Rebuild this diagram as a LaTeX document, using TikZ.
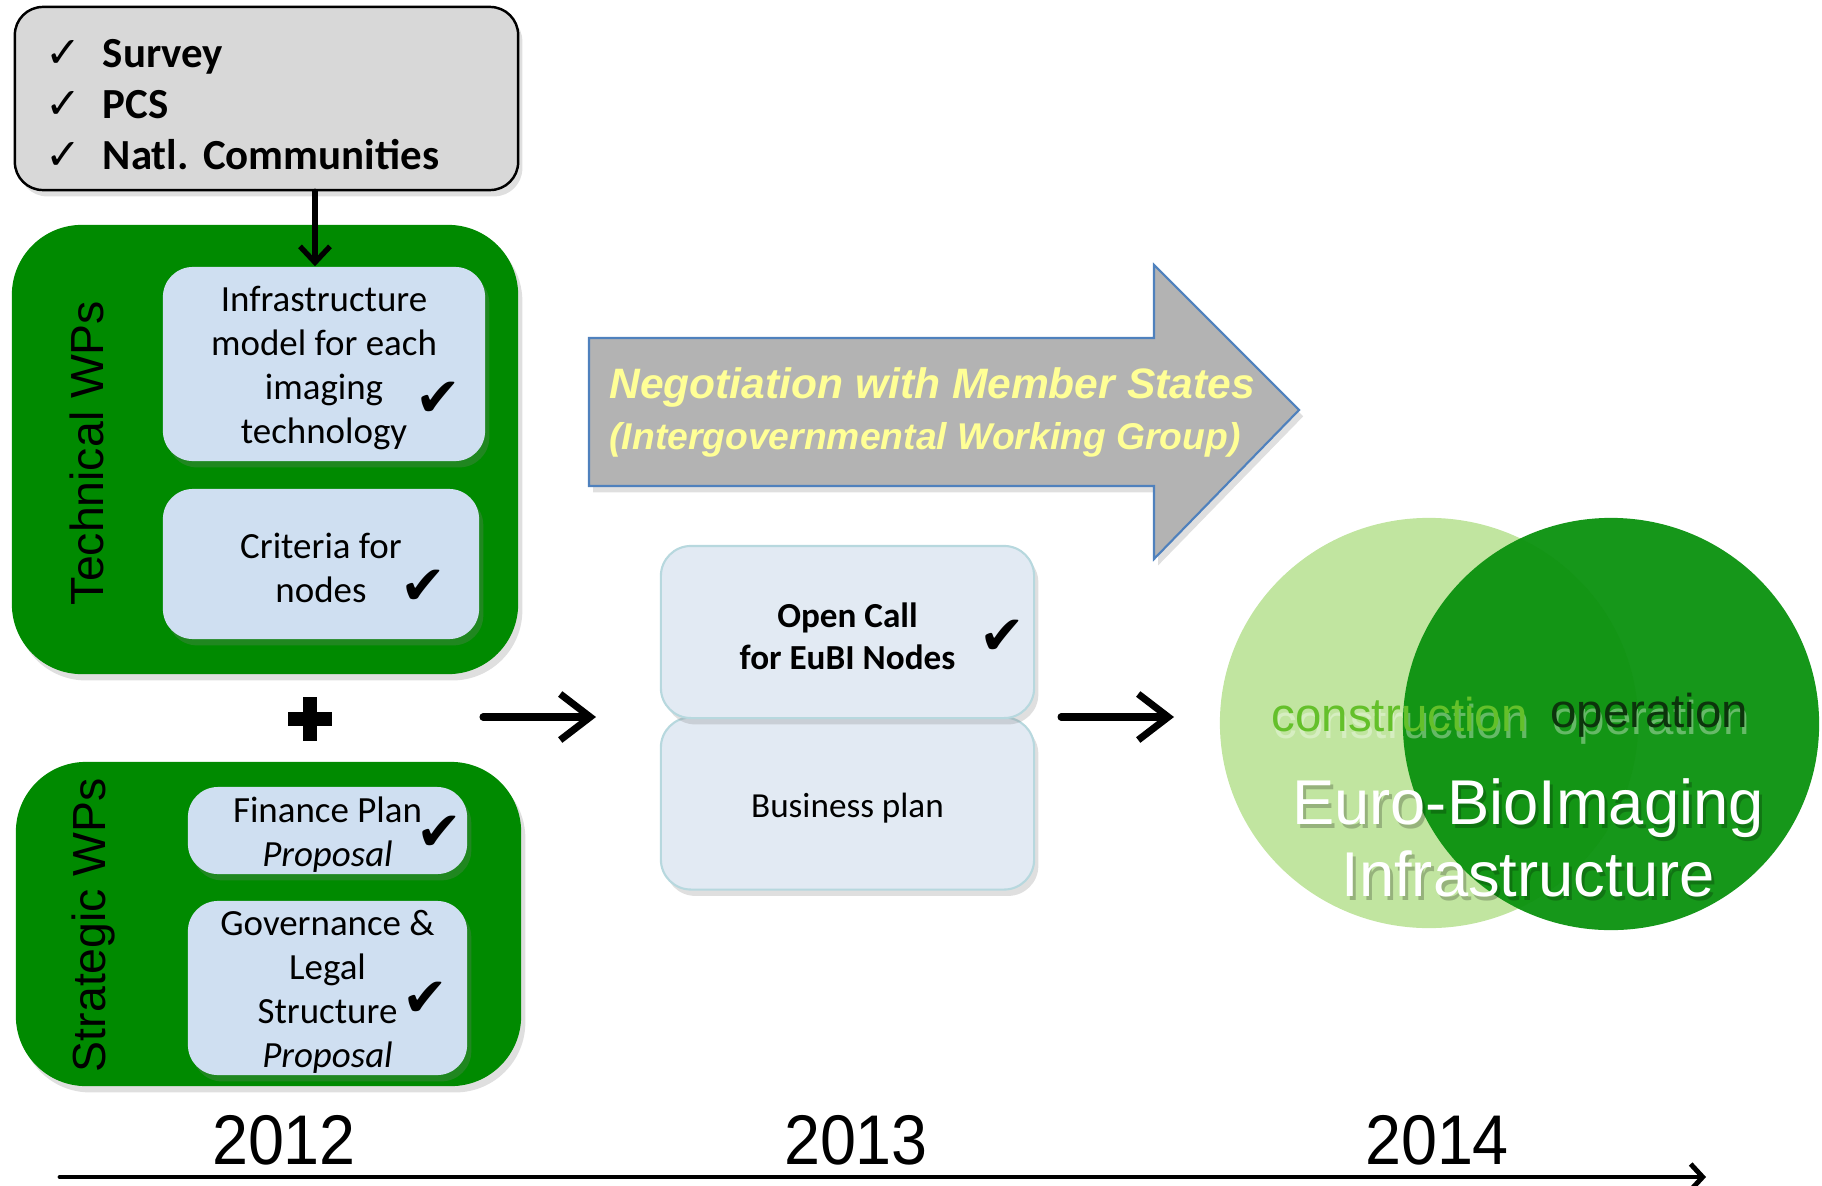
\documentclass[tikz,border=0pt]{standalone}
\usepackage{fontspec}
\setmainfont{Carlito}
\newfontfamily\arialfont{Liberation Sans}
\newfontfamily\dejavu{DejaVu Sans}
\usetikzlibrary{arrows.meta,shadows}
\frenchspacing

\definecolor{wpgreen}{RGB}{0,138,0}
\definecolor{itemblue}{RGB}{207,223,241}
\definecolor{callblue}{RGB}{226,234,243}
\definecolor{callrim}{RGB}{183,216,222}
\definecolor{listgray}{RGB}{216,216,216}
\definecolor{negogray}{RGB}{179,179,179}
\definecolor{negorim}{RGB}{79,129,189}
\definecolor{negotext}{RGB}{255,255,150}
\definecolor{lightleaf}{RGB}{193,229,160}
\definecolor{darkleaf}{RGB}{10,145,14}
\definecolor{constrgreen}{RGB}{100,192,42}
\definecolor{operdark}{RGB}{12,52,12}

\newcommand\listtick{\makebox[0.57cm][l]{\dejavu\mdseries\symbol{"2713}}}
\newcommand\heavytick{\symbol{"2714}}
% taller first line, so the text sits a little lower in its box
\newcommand\lift{\rule{0pt}{9.6pt}}

\begin{document}
\begin{tikzpicture}[x=0.01cm, y=-0.01cm, line cap=round, line join=round,
	softshadow/.style={drop shadow={opacity=0.25, shadow xshift=1.2pt, shadow yshift=-1.8pt}},
	listbox/.style={draw=black, line width=0.7pt, fill=listgray, rounded corners=0.28cm, softshadow},
	wpbox/.style={fill=wpgreen, rounded corners=0.7cm, inner sep=0pt, softshadow},
	itembox/.style={fill=itemblue, rounded corners=0.3cm, inner sep=0pt, align=center,
		font=\fontsize{10.5}{12.5}\selectfont, softshadow},
	callbox/.style={fill=callblue, draw=callrim, line width=0.6pt, rounded corners=0.3cm,
		inner sep=0pt, align=center, minimum width=3.73cm, minimum height=1.72cm, softshadow},
	tick/.style={font=\dejavu\fontsize{15.5}{15.5}\selectfont, inner sep=0pt},
	wplabel/.style={rotate=90, font=\arialfont\fontsize{13.2}{15}\selectfont},
	stagearrow/.style={-{Straight Barb[length=0.3cm,width=0.46cm]}, line width=2pt},
	year/.style={font=\arialfont\fontsize{20}{22}\selectfont, xscale=0.92}]
	
	\useasboundingbox (0,0) rectangle (1822,1185);
	
	% --- 2012: inputs, technical and strategic WPs ---
	\node[listbox, minimum width=5.03cm, minimum height=1.83cm, text width=4.41cm,
		inner xsep=0.31cm, align=left, font=\bfseries\fontsize{12.2}{14.4}\selectfont]
		(checks) at (266.5,98.5)
		{\listtick\rule{0pt}{11.5pt}Survey\\ \listtick PCS\\ \listtick Natl. Communities};
	
	\node[wpbox, minimum width=5.06cm, minimum height=4.49cm] (techwp) at (265,449.5) {};
	\node[wplabel] (techlabel) at (87,453) {Technical WPs};
	\node[itembox, minimum width=3.22cm, minimum height=1.94cm] (infra) at (324,364)
		{\lift Infrastructure\\model for each\\imaging\\technology};
	\node[tick] (infratick) at (438,399) {\heavytick};
	\node[itembox, minimum width=3.16cm, minimum height=1.50cm] (criteria) at (321,564)
		{\lift Criteria for\\nodes};
	\node[tick] (criteriatick) at (423,587) {\heavytick};
	
	\coordinate (infratop) at ([xshift=-0.09cm]infra.north);
	\draw[-{Straight Barb[length=0.16cm,width=0.3cm]}, line width=1.5pt]
		(checks.south -| infratop) -- (infratop);
	
	% plus sign between the two groups
	\draw[line width=4.2pt, line cap=butt] (288,719) -- (332,719) (310,697) -- (310,741);
	
	\node[wpbox, minimum width=5.05cm, minimum height=3.24cm] (stratwp) at (268.5,924) {};
	\node[wplabel] (stratlabel) at (93,925) {Strategic WPs};
	\node[itembox, minimum width=2.79cm, minimum height=0.87cm] (finance) at (327.5,830.5)
		{\lift Finance Plan\\\textit{Proposal}};
	\node[tick] (financetick) at (439,833) {\heavytick};
	\node[itembox, minimum width=2.79cm, minimum height=1.74cm] (govern) at (327.5,988)
		{\lift Governance \&\\Legal\\Structure\\\textit{Proposal}};
	\node[tick] (governtick) at (425,999) {\heavytick};
	
	% --- 2013: negotiation arrow, open call and business plan ---
	\filldraw[fill=negogray, draw=negorim, line width=0.6pt, line join=miter, softshadow]
		(589,338) -- (1154,338) -- (1154,265) -- (1299,410) -- (1154,559)
		-- (1154,486) -- (589,486) -- cycle;
	\node[text=negotext, font=\arialfont\bfseries\itshape\fontsize{12.1}{14}\selectfont]
		(nego) at (932,387) {Negotiation with Member States};
	\node[text=negotext, font=\arialfont\bfseries\itshape\fontsize{10.6}{13}\selectfont]
		(igwg) at (925,440) {(Intergovernmental Working Group)};
	
	\node[callbox] (business) at (847.5,803.5) {\lift Business plan};
	\node[callbox, font=\bfseries] (opencall) at (847.5,632) {\lift Open Call\\for EuBI Nodes};
	\node[tick] (calltick) at (1002,637) {\heavytick};
	
	\coordinate (a1s) at (483,717);
	\coordinate (a1e) at (596,717);
	\coordinate (a2s) at (1061,717);
	\coordinate (a2e) at (1174,717);
	\draw[stagearrow] (a1s) -- (a1e);
	\draw[stagearrow] (a2s) -- (a2e);
	
	% --- 2014: construction and operation ---
	\fill[lightleaf] (1429,723) ellipse [x radius=2.09cm, y radius=2.05cm];
	\fill[darkleaf, opacity=0.95] (1611,724) ellipse [x radius=2.08cm, y radius=2.06cm];
	
	\begin{scope}[font=\arialfont\fontsize{13.5}{15}\selectfont, inner sep=0pt]
		\node[anchor=west, text=white, opacity=0.35] (constrghost) at (1273,722) {construction};
		\node[anchor=east, text=white, opacity=0.35] (operghost) at (1751,722) {operation};
		\node[anchor=west, text=constrgreen] (constr) at (1271,715) {construction};
		\node[anchor=east, text=operdark] (oper) at (1749,715) {operation};
	\end{scope}
	
	\begin{scope}[font=\arialfont\fontsize{18}{20.5}\selectfont, align=center]
		\node[text=black, opacity=0.22] (eubishadow) at (1531,842) {Euro-BioImaging\\Infrastructure};
		\node[text=white] (eubi) at (1528,838) {Euro-BioImaging\\Infrastructure};
	\end{scope}
	
	% --- time line ---
	\node[year] (y2012) at (284,1140) {2012};
	\node[year] (y2013) at (856,1140) {2013};
	\node[year] (y2014) at (1437,1140) {2014};
	
	\coordinate (tl0) at (60,1177);
	\coordinate (tl1) at (1706,1177);
	\draw[-{Straight Barb[length=0.12cm,width=0.26cm]}, line width=1.4pt] (tl0) -- (tl1);
	
\end{tikzpicture}
\end{document}
